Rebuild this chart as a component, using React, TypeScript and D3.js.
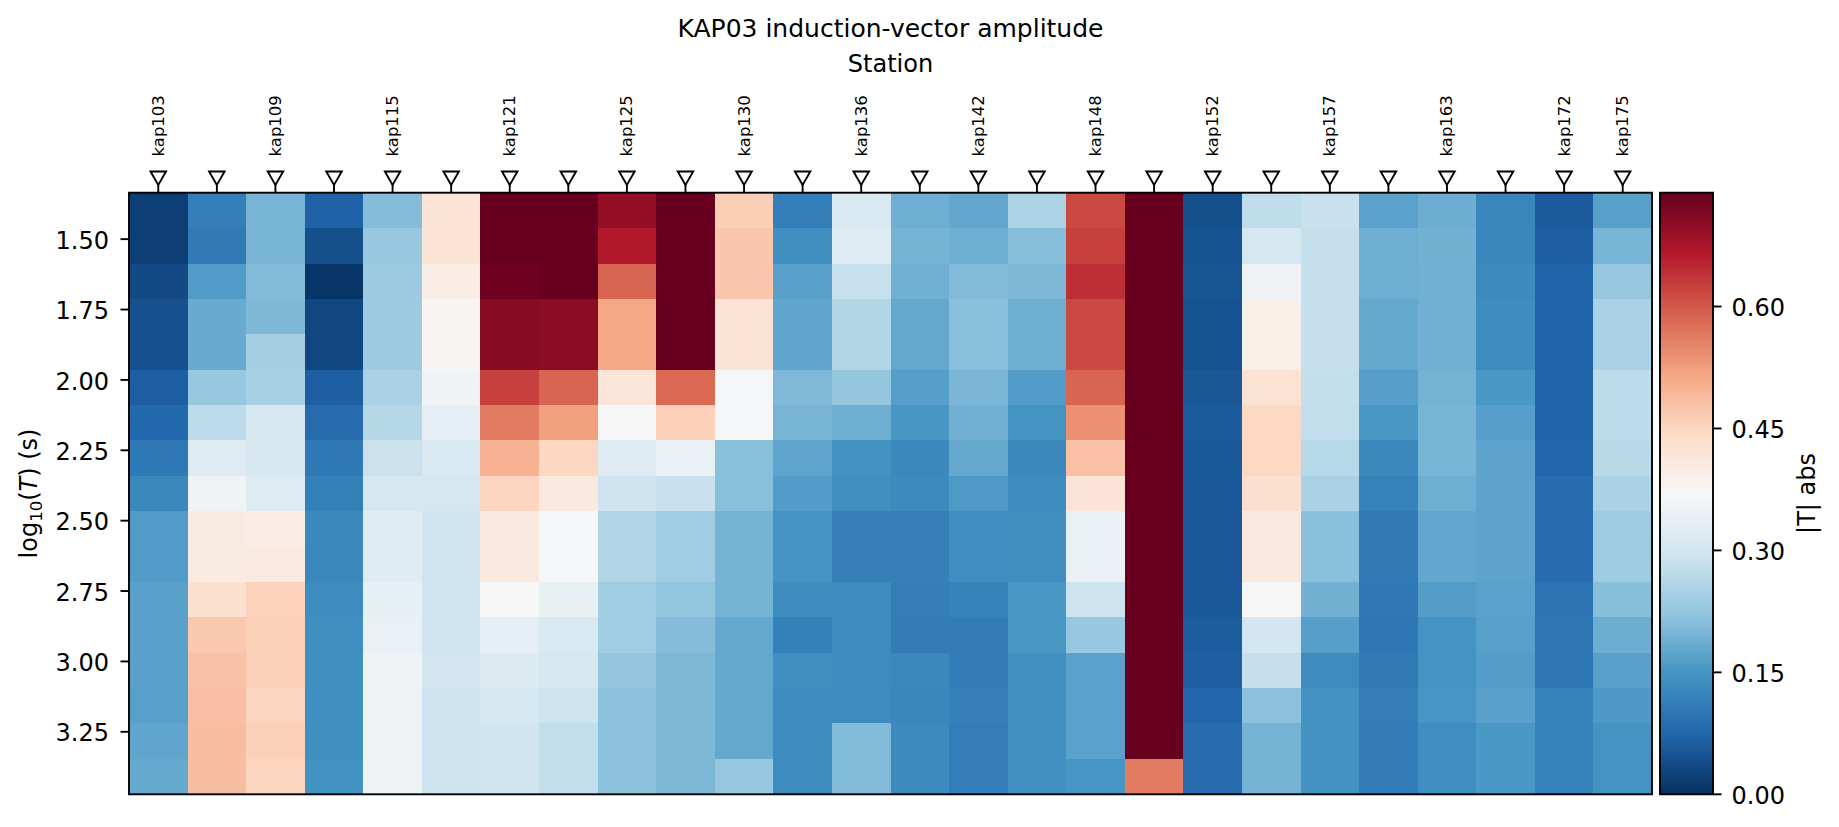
import React from "react";
import * as d3 from "d3";

// stations along the profile (only every other one is labelled in the figure)
const stations = [
  "kap103", "kap106", "kap109", "kap112", "kap115", "kap118", "kap121", "kap123",
  "kap125", "kap127", "kap130", "kap133", "kap136", "kap139", "kap142", "kap145",
  "kap148", "kap151", "kap152", "kap155", "kap157", "kap160", "kap163", "kap167",
  "kap172", "kap175",
];
const shownStations = [
  "kap103", "kap109", "kap115", "kap121", "kap125", "kap130", "kap136",
  "kap142", "kap148", "kap152", "kap157", "kap163", "kap172", "kap175",
];

// log10 of the period at the centre of each row
const logPeriods = [
  1.398, 1.524, 1.649, 1.775, 1.901, 2.026, 2.152, 2.278, 2.403,
  2.529, 2.655, 2.78, 2.906, 3.032, 3.157, 3.283, 3.409,
];

// |T| per station (one row per station, short to long period)
const amplitude: number[][] = [
  [0.021, 0.021, 0.036, 0.044, 0.044, 0.064, 0.079, 0.105, 0.13, 0.16, 0.16, 0.169, 0.169, 0.169, 0.167, 0.175, 0.18],
  [0.115, 0.107, 0.16, 0.184, 0.184, 0.229, 0.273, 0.321, 0.354, 0.402, 0.402, 0.431, 0.47, 0.48, 0.482, 0.484, 0.484],
  [0.197, 0.197, 0.207, 0.203, 0.245, 0.247, 0.308, 0.308, 0.321, 0.396, 0.404, 0.456, 0.459, 0.459, 0.452, 0.459, 0.452],
  [0.069, 0.042, 0.007, 0.032, 0.032, 0.064, 0.082, 0.105, 0.116, 0.13, 0.13, 0.135, 0.141, 0.141, 0.141, 0.141, 0.146],
  [0.209, 0.229, 0.234, 0.234, 0.234, 0.25, 0.264, 0.289, 0.304, 0.325, 0.325, 0.337, 0.345, 0.354, 0.354, 0.354, 0.354],
  [0.423, 0.423, 0.396, 0.378, 0.378, 0.354, 0.333, 0.312, 0.304, 0.296, 0.296, 0.296, 0.296, 0.298, 0.291, 0.291, 0.291],
  [0.76, 0.76, 0.733, 0.707, 0.707, 0.624, 0.563, 0.5, 0.451, 0.407, 0.407, 0.372, 0.333, 0.317, 0.304, 0.296, 0.296],
  [0.76, 0.76, 0.76, 0.704, 0.704, 0.587, 0.523, 0.449, 0.407, 0.366, 0.366, 0.341, 0.312, 0.304, 0.291, 0.278, 0.278],
  [0.696, 0.666, 0.587, 0.514, 0.514, 0.418, 0.37, 0.321, 0.294, 0.259, 0.259, 0.24, 0.24, 0.224, 0.216, 0.216, 0.216],
  [0.76, 0.76, 0.76, 0.76, 0.76, 0.583, 0.46, 0.345, 0.287, 0.24, 0.24, 0.222, 0.21, 0.203, 0.203, 0.203, 0.203],
  [0.462, 0.471, 0.471, 0.423, 0.423, 0.366, 0.366, 0.213, 0.213, 0.195, 0.195, 0.195, 0.179, 0.179, 0.179, 0.179, 0.229],
  [0.115, 0.141, 0.169, 0.175, 0.175, 0.204, 0.198, 0.175, 0.161, 0.148, 0.148, 0.138, 0.118, 0.141, 0.135, 0.135, 0.135],
  [0.312, 0.321, 0.284, 0.261, 0.261, 0.224, 0.189, 0.146, 0.141, 0.117, 0.117, 0.135, 0.135, 0.135, 0.135, 0.207, 0.207],
  [0.188, 0.195, 0.191, 0.179, 0.179, 0.166, 0.152, 0.13, 0.133, 0.117, 0.117, 0.113, 0.11, 0.13, 0.128, 0.133, 0.133],
  [0.178, 0.188, 0.207, 0.213, 0.213, 0.2, 0.192, 0.179, 0.158, 0.14, 0.14, 0.12, 0.11, 0.11, 0.117, 0.113, 0.113],
  [0.254, 0.212, 0.203, 0.189, 0.189, 0.16, 0.149, 0.132, 0.138, 0.141, 0.141, 0.154, 0.154, 0.143, 0.143, 0.143, 0.143],
  [0.616, 0.624, 0.643, 0.616, 0.616, 0.587, 0.541, 0.481, 0.42, 0.345, 0.345, 0.291, 0.229, 0.17, 0.17, 0.17, 0.151],
  [0.76, 0.76, 0.76, 0.76, 0.76, 0.76, 0.76, 0.76, 0.76, 0.76, 0.76, 0.76, 0.76, 0.76, 0.76, 0.76, 0.563],
  [0.042, 0.048, 0.051, 0.048, 0.048, 0.053, 0.059, 0.056, 0.055, 0.055, 0.055, 0.055, 0.062, 0.064, 0.073, 0.084, 0.084],
  [0.275, 0.304, 0.354, 0.391, 0.391, 0.425, 0.447, 0.447, 0.431, 0.407, 0.407, 0.372, 0.302, 0.282, 0.216, 0.195, 0.195],
  [0.287, 0.282, 0.282, 0.282, 0.282, 0.281, 0.278, 0.266, 0.25, 0.214, 0.214, 0.193, 0.166, 0.136, 0.146, 0.146, 0.146],
  [0.17, 0.188, 0.188, 0.179, 0.179, 0.166, 0.154, 0.13, 0.12, 0.107, 0.107, 0.105, 0.102, 0.107, 0.113, 0.11, 0.11],
  [0.186, 0.193, 0.191, 0.191, 0.191, 0.195, 0.197, 0.197, 0.188, 0.178, 0.178, 0.163, 0.149, 0.149, 0.151, 0.14, 0.14],
  [0.128, 0.128, 0.133, 0.138, 0.138, 0.155, 0.166, 0.173, 0.173, 0.173, 0.173, 0.17, 0.167, 0.163, 0.169, 0.155, 0.155],
  [0.058, 0.064, 0.071, 0.071, 0.071, 0.071, 0.071, 0.076, 0.084, 0.084, 0.084, 0.095, 0.1, 0.1, 0.12, 0.12, 0.12],
  [0.167, 0.197, 0.227, 0.25, 0.25, 0.273, 0.273, 0.268, 0.25, 0.238, 0.238, 0.212, 0.186, 0.169, 0.157, 0.148, 0.148],
];

const yTicks = [1.5, 1.75, 2.0, 2.25, 2.5, 2.75, 3.0, 3.25];
const cbarTicks = [0, 0.15, 0.3, 0.45, 0.6];
const vmax = 0.74;

// matplotlib RdBu (reversed: blue for low, red for high)
const rdbuR = [
  "#053061", "#2166ac", "#4393c3", "#92c5de", "#d1e5f0", "#f7f7f7",
  "#fddbc7", "#f4a582", "#d6604d", "#b2182b", "#67001f",
];

const W = 1839;
const H = 827;
const plot = { left: 129, right: 1652, top: 192.7, bottom: 794.3 };
const cbar = { left: 1660, right: 1713 };
const FONT = "DejaVu Sans, Verdana, sans-serif";
const LW = 1.9;
const TICK = 8.5;

const App = () => {
  // row edges half-way between the period centres
  const mids = logPeriods.slice(1).map((p, i) => (p + logPeriods[i]) / 2);
  const edges = [
    logPeriods[0] - (mids[0] - logPeriods[0]),
    ...mids,
    logPeriods[logPeriods.length - 1] + (logPeriods[logPeriods.length - 1] - mids[mids.length - 1]),
  ];

  const x = d3.scaleBand().domain(stations).range([plot.left, plot.right]).padding(0);
  const y = d3
    .scaleLinear()
    .domain([edges[0], edges[edges.length - 1]])
    .range([plot.top, plot.bottom]);

  const color = d3
    .scaleLinear<string>()
    .domain(rdbuR.map((_, i) => (i * vmax) / (rdbuR.length - 1)))
    .range(rdbuR)
    .interpolate(d3.interpolateRgb)
    .clamp(true);

  const cy = d3.scaleLinear().domain([0, vmax]).range([plot.bottom, plot.top]);
  const fmt = d3.format(".2f");
  const tri = d3.symbol(d3.symbolTriangle, 104)();

  const cells = stations.flatMap((s, si) =>
    logPeriods.map((_, ri) => ({
      s,
      v: amplitude[si][ri],
      y0: y(edges[ri]),
      y1: y(edges[ri + 1]),
    }))
  );

  const midY = (plot.top + plot.bottom) / 2;

  return (
    <svg
      width={W}
      height={H}
      style={{ position: "absolute", left: 0, top: 0, background: "#fff" }}
      fontFamily={FONT}
    >
      <defs>
        <linearGradient id="cbar" x1="0" y1="1" x2="0" y2="0">
          {rdbuR.map((c, i) => (
            <stop key={i} offset={i / (rdbuR.length - 1)} stopColor={c} />
          ))}
        </linearGradient>
      </defs>

      {/* heatmap cells */}
      <g shapeRendering="crispEdges">
        {cells.map((d, i) => (
          <rect
            key={i}
            x={x(d.s)}
            y={d.y0}
            width={x.bandwidth() + 0.4}
            height={d.y1 - d.y0 + 0.4}
            fill={color(d.v)}
          />
        ))}
      </g>
      <rect
        x={plot.left}
        y={plot.top}
        width={plot.right - plot.left}
        height={plot.bottom - plot.top}
        fill="none"
        stroke="#000"
        strokeWidth={LW}
      />

      {/* y axis */}
      {yTicks.map((t) => (
        <g key={t}>
          <line x1={plot.left - TICK} x2={plot.left} y1={y(t)} y2={y(t)} stroke="#000" strokeWidth={LW} />
          <text x={plot.left - 20} y={y(t) + 9.6} fontSize={24} textAnchor="end">
            {fmt(t)}
          </text>
        </g>
      ))}
      <text
        transform={`translate(37,${midY}) rotate(-90)`}
        fontSize={24}
        textAnchor="middle"
      >
        log
        <tspan fontSize={16.5} dy={5}>10</tspan>
        <tspan dy={-5}>(</tspan>
        <tspan fontStyle="italic">T</tspan>
        <tspan>) (s)</tspan>
      </text>

      {/* top axis: station markers */}
      {stations.map((s) => {
        const cx = x(s)! + x.bandwidth() / 2;
        return (
          <g key={s}>
            <line x1={cx} x2={cx} y1={plot.top} y2={plot.top - TICK} stroke="#000" strokeWidth={LW} />
            <path
              d={tri!}
              transform={`translate(${cx},176) rotate(180)`}
              fill="#fff"
              stroke="#000"
              strokeWidth={1.9}
            />
            {shownStations.includes(s) && (
              <text
                transform={`translate(${cx + 5.5},156.5) rotate(-90)`}
                fontSize={16.5}
                textAnchor="start"
              >
                {s}
              </text>
            )}
          </g>
        );
      })}
      <text x={(plot.left + plot.right) / 2} y={72} fontSize={24} textAnchor="middle">
        Station
      </text>
      <text x={(plot.left + plot.right) / 2} y={37} fontSize={25} textAnchor="middle">
        KAP03 induction-vector amplitude
      </text>

      {/* colorbar */}
      <rect
        x={cbar.left}
        y={plot.top}
        width={cbar.right - cbar.left}
        height={plot.bottom - plot.top}
        fill="url(#cbar)"
        stroke="#000"
        strokeWidth={LW}
      />
      {cbarTicks.map((t) => (
        <g key={t}>
          <line x1={cbar.right} x2={cbar.right + TICK} y1={cy(t)} y2={cy(t)} stroke="#000" strokeWidth={LW} />
          <text x={1731.5} y={cy(t) + 9.6} fontSize={24}>
            {fmt(t)}
          </text>
        </g>
      ))}
      <text transform={`translate(1815,${midY}) rotate(-90)`} fontSize={24} textAnchor="middle">
        |T| abs
      </text>
    </svg>
  );
};

export default App;
